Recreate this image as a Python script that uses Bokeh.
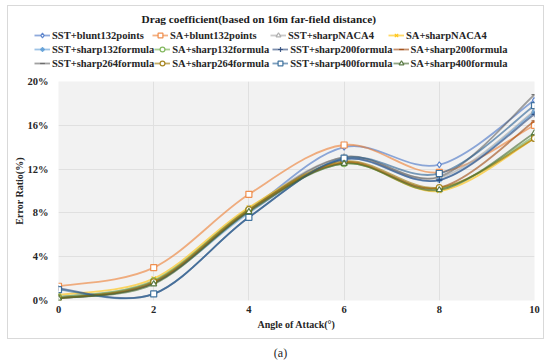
from bokeh.plotting import figure
from bokeh.models import Legend, LegendItem, ColumnDataSource, Div, FixedTicker, PrintfTickFormatter, Label, Range1d
from bokeh.layouts import column
from bokeh.embed import file_html
from bokeh.resources import INLINE

angles = [0, 2, 4, 6, 8, 10]

names = [
    "SST+blunt132points", "SA+blunt132points", "SST+sharpNACA4", "SA+sharpNACA4",
    "SST+sharp132formula", "SA+sharp132formula", "SST+sharp200formula", "SA+sharp200formula",
    "SST+sharp264formula", "SA+sharp264formula", "SST+sharp400formula", "SA+sharp400formula",
]

sst_blunt132 = [0.3, 1.7, 8.2, 14.0, 12.4, 18.3]
sa_blunt132 = [1.3, 3.0, 9.7, 14.2, 11.7, 16.0]
sst_naca4 = [0.3, 1.8, 8.4, 13.1, 11.2, 17.3]
sa_naca4 = [0.5, 2.0, 8.5, 12.6, 10.0, 14.8]
sst_132f = [0.2, 1.6, 8.0, 12.9, 11.0, 17.2]
sa_132f = [0.3, 1.8, 8.3, 12.5, 10.2, 15.0]
sst_200f = [1.1, 0.6, 7.6, 12.9, 11.0, 17.0]
sa_200f = [0.2, 1.6, 8.2, 12.6, 10.3, 16.4]
sst_264f = [0.2, 1.6, 8.2, 13.1, 11.3, 18.8]
sa_264f = [0.2, 1.7, 8.3, 12.7, 10.3, 14.8]
sst_400f = [1.0, 0.6, 7.6, 13.0, 11.6, 17.8]
sa_400f = [0.2, 1.5, 8.1, 12.5, 10.1, 15.3]

series = [sst_blunt132, sa_blunt132, sst_naca4, sa_naca4, sst_132f, sa_132f,
          sst_200f, sa_200f, sst_264f, sa_264f, sst_400f, sa_400f]

y_ticks = [0, 4, 8, 12, 16, 20]
x_ticks = [0, 2, 4, 6, 8, 10]

colors = ["#4472C4", "#ED7D31", "#A5A5A5", "#FFC000", "#5B9BD5", "#70AD47",
          "#264478", "#9E480E", "#636363", "#997300", "#255E91", "#43682B"]
markers = ["diamond", "square", "triangle", "x", "asterisk", "circle",
           "cross", "dash", "dash", "circle", "square", "triangle"]

FONT = "'Liberation Serif', 'Times New Roman', serif"
TXT = "#262626"
BORDER = "1px solid #d9d9d9"

# ---------------- header (title + legend) ----------------
h = figure(width=537, height=70, x_range=Range1d(-100, -99), y_range=Range1d(-100, -99),
           title=None, x_axis_location=None, y_axis_location=None,
           output_backend="svg", toolbar_location=None, frame_align=False,
           min_border_left=0, min_border_right=0, min_border_top=0, min_border_bottom=0)
h.styles = {"border": BORDER, "border-bottom": "none"}
h.background_fill_color = "white"
h.border_fill_color = "white"
h.outline_line_color = None
h.xgrid.visible = False
h.ygrid.visible = False

h.add_layout(Label(x=133, y=58, x_units="screen", y_units="screen",
                   text="Drag coefficient(based on 16m far-field distance)",
                   text_font=FONT, text_font_size="11.3px", text_font_style="bold",
                   text_color="#1a1a1a", text_baseline="middle", text_align="left"))

# ---------------- chart ----------------
p = figure(width=537, height=264, x_range=(0, 10), y_range=(0, 20), title=None,
           output_backend="svg", toolbar_location=None, frame_align=False,
           min_border_left=50, min_border_right=11, min_border_top=6, min_border_bottom=39)
p.styles = {"border": BORDER, "border-top": "none"}
p.background_fill_color = "#f2f2f2"
p.border_fill_color = "white"
p.outline_line_color = None

p.xgrid.grid_line_color = "#e0e0e0"
p.ygrid.grid_line_color = "#e0e0e0"
p.xaxis.ticker = FixedTicker(ticks=x_ticks)
p.yaxis.ticker = FixedTicker(ticks=y_ticks)
p.yaxis.formatter = PrintfTickFormatter(format="%d%%")
for ax in (p.xaxis, p.yaxis):
    ax.axis_line_color = None
    ax.major_tick_line_color = None
    ax.minor_tick_line_color = None
    ax.major_tick_out = 0
    ax.major_tick_in = 0
    ax.minor_tick_out = 0
    ax.major_label_text_font = FONT
    ax.major_label_text_font_style = "bold"
    ax.major_label_text_font_size = "10.5px"
    ax.major_label_text_color = TXT
    ax.axis_label_text_font = FONT
    ax.axis_label_text_font_style = "bold"
    ax.axis_label_text_font_size = "10px"
    ax.axis_label_text_color = TXT
p.xaxis.axis_label = "Angle of Attack(°)"
p.yaxis.axis_label = "Error Ratio(%)"
p.xaxis.major_label_standoff = 5
p.xaxis.axis_label_standoff = 3
p.yaxis.major_label_standoff = 10
p.yaxis.axis_label_standoff = 0


def bezier_source(xs, ys):
    n = len(xs)
    d = dict(x0=[], y0=[], x1=[], y1=[], cx0=[], cy0=[], cx1=[], cy1=[])
    for i in range(n - 1):
        a = i - 1 if i > 0 else i
        b = i + 2 if i + 2 < n else i + 1
        d["x0"].append(xs[i]); d["y0"].append(ys[i])
        d["x1"].append(xs[i + 1]); d["y1"].append(ys[i + 1])
        d["cx0"].append(xs[i] + (xs[i + 1] - xs[a]) / 6)
        d["cy0"].append(ys[i] + (ys[i + 1] - ys[a]) / 6)
        d["cx1"].append(xs[i + 1] - (xs[b] - xs[i]) / 6)
        d["cy1"].append(ys[i + 1] - (ys[b] - ys[i]) / 6)
    return ColumnDataSource(d)


items = []
for name, vals, c, m in zip(names, series, colors, markers):
    src = bezier_source(angles, vals)
    p.bezier(x0="x0", y0="y0", x1="x1", y1="y1", cx0="cx0", cy0="cy0",
             cx1="cx1", cy1="cy1", source=src, line_color=c, line_width=1.8, line_alpha=0.6)
    p.scatter(angles, vals, marker=m, size=6, line_color=c, line_width=1.2,
              fill_color="white", line_alpha=0.85)
    # legend proxies in the header (outside its visible range)
    l1 = h.line(angles, vals, line_color=c, line_width=1.8, line_alpha=0.6)
    l2 = h.scatter(angles, vals, marker=m, size=6, line_color=c, line_width=1.2,
                   fill_color="white", line_alpha=0.85)
    items.append(LegendItem(label=name, renderers=[l1, l2]))


def make_legend(its, vy):
    return Legend(items=its, orientation="horizontal", location=(26, vy),
                  label_text_font=FONT, label_text_font_style="bold", label_text_font_size="10.5px",
                  label_text_color=TXT, glyph_width=16, glyph_height=12, label_height=12,
                  label_width=100, label_standoff=2, spacing=0, padding=1, margin=0,
                  border_line_color=None, background_fill_alpha=0)


h.add_layout(make_legend(items[0:4], 35))
h.add_layout(make_legend(items[4:8], 21))
h.add_layout(make_legend(items[8:12], 7))

cap = Div(text="(a)", width=537, styles={"text-align": "center", "font-family": FONT,
                                          "font-size": "12px", "color": TXT, "padding-top": "1px"})

layout = column(h, p, cap, spacing=0, margin=(5, 0, 0, 7))
open("out.html", "w").write(file_html(layout, INLINE))
